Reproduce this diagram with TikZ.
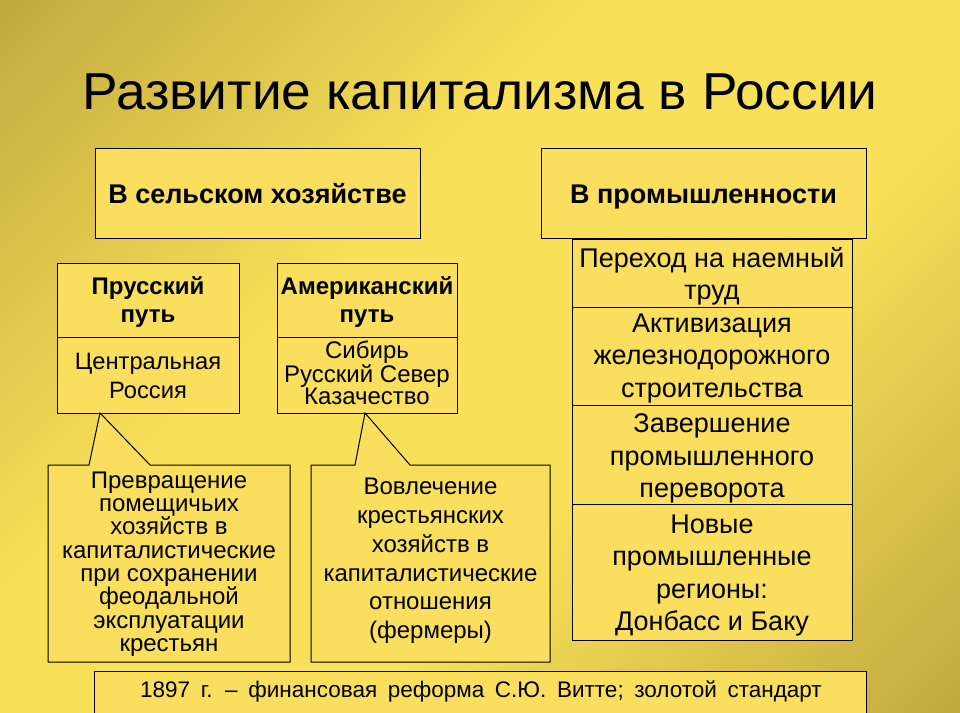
\documentclass[tikz,border=0pt]{standalone}
\usepackage{fontspec}
\setmainfont{Liberation Sans}
\usetikzlibrary{calc}
\definecolor{boxy}{RGB}{250,222,94}
\definecolor{bgdark}{RGB}{162,138,50}
\definecolor{bgbright}{RGB}{248,224,88}
\pgfdeclarehorizontalshading{slidebg}{100bp}{color(0bp)=(bgdark); color(40bp)=(bgbright); color(60bp)=(bgbright); color(100bp)=(bgdark)}
\newcommand{\hdrfont}{\bfseries\fontsize{27}{32}\selectfont}
\newcommand{\rowfont}{\fontsize{27}{32.3}\selectfont}
\newcommand{\subhfont}{\bfseries\fontsize{24}{28}\selectfont}
\begin{document}
\begin{tikzpicture}[x=1pt,y=-1pt,
  box/.style={draw=black, line width=1pt, fill=boxy, inner sep=0pt},
  callout/.style={draw=black, line width=1pt, fill=boxy, line join=miter},
  txt/.style={align=center, inner sep=0pt}]
\useasboundingbox (0,0) rectangle (960,712);
\fill[shading=slidebg, shading angle=-45] (0,0) rectangle (960,712);
% title
\node[txt, font=\fontsize{52}{60}\selectfont] (title) at (480,92) {\scalebox{1.025}[1]{Развитие капитализма в России}};
% top headers
\node[box, minimum width=325pt, minimum height=90pt] (agr) at (257.5,193) {};
\node[txt, font=\hdrfont, anchor=base] (agrt) at ($(agr.center)+(0,10.5)$) {В сельском хозяйстве};
\node[box, minimum width=325pt, minimum height=90pt] (ind) at (703.5,193) {};
\node[txt, font=\hdrfont, anchor=base] (indt) at ($(ind.center)+(0,10.5)$) {В промышленности};
% industry stack
\node[box, minimum width=280pt, minimum height=68pt] (r1) at (712,273) {};
\node[box, minimum width=280pt, minimum height=98pt] (r2) at (712,356) {};
\node[box, minimum width=280pt, minimum height=99pt] (r3) at (712,454.5) {};
\node[box, minimum width=280pt, minimum height=136pt] (r4) at (712,572) {};
\node[txt, font=\rowfont] (r1t) at ($(r1.center)+(0,3)$) {Переход на наемный\\труд};
\node[txt, font=\rowfont] (r2t) at ($(r2.center)+(0,2.5)$) {Активизация\\железнодорожного\\строительства};
\node[txt, font=\rowfont] (r3t) at ($(r3.center)+(0,4)$) {Завершение\\промышленного\\переворота};
\node[txt, font=\rowfont] (r4t) at ($(r4.center)+(0,3.5)$) {Новые\\промышленные\\регионы:\\Донбасс и Баку};
% paths
\node[box, minimum width=182pt, minimum height=74pt] (ph) at (148,300) {};
\node[box, minimum width=182pt, minimum height=76pt] (pb) at (148,375) {};
\node[box, minimum width=180pt, minimum height=74pt] (ah) at (367,300) {};
\node[box, minimum width=180pt, minimum height=76pt] (ab) at (367,375) {};
\node[txt, font=\subhfont] (pht) at ($(ph.center)+(0,2.5)$) {Прусский\\путь};
\node[txt, font=\fontsize{23.7}{29}\selectfont] (pbt) at ($(pb.center)+(0,0.5)$) {Центральная\\Россия};
\node[txt, font=\subhfont] (aht) at ($(ah.center)+(0,2.5)$) {Американский\\путь};
\node[txt, font=\fontsize{24}{20.5}\selectfont] (abt) at ($(ab.center)+(0,-2)$) {Сибирь\\Русский Север\\Казачество};
% callouts
\coordinate (t1) at (100,413);
\coordinate (t2) at (365,413);
\draw[callout] (48,465) -- (89,465) -- (t1) -- (150,465) -- (290,465) -- (290,662) -- (48,662) -- cycle;
\draw[callout] (311,465) -- (355,465) -- (t2) -- (410,465) -- (550,465) -- (550,662) -- (311,662) -- cycle;
\node[txt, font=\fontsize{24}{23.3}\selectfont] (c1) at (169,564) {Превращение\\помещичьих\\хозяйств в\\капиталистические\\при сохранении\\феодальной\\эксплуатации\\крестьян};
\node[txt, font=\fontsize{24}{28.8}\selectfont] (c2) at (430.5,561) {Вовлечение\\крестьянских\\хозяйств в\\капиталистические\\отношения\\(фермеры)};
% bottom
\node[box, minimum width=772pt, minimum height=60pt, anchor=north] (bot) at (480,671) {};
\node[txt, font=\fontsize{22.5}{26}\selectfont] (bottxt) at (481,691) {\spaceskip=10.6pt 1897 г. – финансовая реформа С.Ю. Витте; золотой стандарт};
\end{tikzpicture}
\end{document}
